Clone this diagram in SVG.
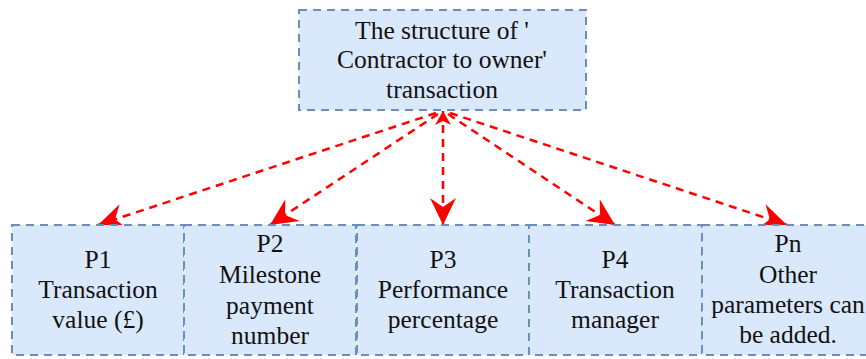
<svg xmlns="http://www.w3.org/2000/svg" width="866" height="359" viewBox="0 0 866 359">
  <defs>
    <style>
      .box { fill: #dae8fc; stroke: #6c8ebf; stroke-width: 2; stroke-dasharray: 8 6; }
      text { font-family: "Liberation Serif", Tinos, "Times New Roman", Times, "DejaVu Serif", "Noto Serif", serif; font-size: 25.5px; fill: #111; text-anchor: middle; }
      .link { fill: none; stroke: #ff0000; stroke-width: 2.5; stroke-dasharray: 8 6; }
    </style>
    <marker id="head" viewBox="0 0 28 28" refX="27" refY="14" markerWidth="28" markerHeight="28" markerUnits="userSpaceOnUse" orient="auto">
      <path d="M27,14 L0,1 L9,14 L0,27 Z" fill="#ff0000"/>
    </marker>
    <marker id="tail" viewBox="0 0 16 16" refX="14" refY="8" markerWidth="16" markerHeight="16" markerUnits="userSpaceOnUse" orient="auto-start-reverse">
      <path d="M14,8 L0,0 L4,8 L0,16 Z" fill="#ff0000"/>
    </marker>
  </defs>
  <rect width="866" height="359" fill="#ffffff"/>

  <g id="connectors">
    <line class="link" x1="436" y1="113" x2="98" y2="225" marker-end="url(#head)"/>
    <line class="link" x1="438" y1="114" x2="270" y2="225" marker-end="url(#head)"/>
    <line class="link" x1="443" y1="111" x2="443" y2="225" marker-start="url(#tail)" marker-end="url(#head)"/>
    <line class="link" x1="448" y1="114" x2="615" y2="225" marker-end="url(#head)"/>
    <line class="link" x1="450" y1="113" x2="787" y2="225" marker-end="url(#head)"/>
  </g>

  <g id="root">
    <rect class="box" x="299" y="10" width="287" height="100"/>
    <text x="442" y="39">The structure of '</text>
    <text x="442" y="68">Contractor to owner'</text>
    <text x="442" y="98">transaction</text>
  </g>

  <g id="p1">
    <rect class="box" x="12" y="225" width="172" height="130"/>
    <text x="98" y="268">P1</text>
    <text x="98" y="298">Transaction</text>
    <text x="98" y="328">value (£)</text>
  </g>

  <g id="p2">
    <rect class="box" x="184" y="225" width="172" height="130"/>
    <text x="270" y="252">P2</text>
    <text x="270" y="283">Milestone</text>
    <text x="270" y="314">payment</text>
    <text x="270" y="344">number</text>
  </g>

  <g id="p3">
    <rect class="box" x="357" y="225" width="172" height="130"/>
    <text x="443" y="268">P3</text>
    <text x="443" y="298">Performance</text>
    <text x="443" y="328">percentage</text>
  </g>

  <g id="p4">
    <rect class="box" x="529" y="225" width="173" height="130"/>
    <text x="615" y="268">P4</text>
    <text x="615" y="298">Transaction</text>
    <text x="615" y="328">manager</text>
  </g>

  <g id="pn">
    <rect class="box" x="702" y="225" width="172" height="130"/>
    <text x="788" y="252">Pn</text>
    <text x="788" y="283">Other</text>
    <text x="788" y="313">parameters can</text>
    <text x="788" y="343">be added.</text>
  </g>
</svg>
